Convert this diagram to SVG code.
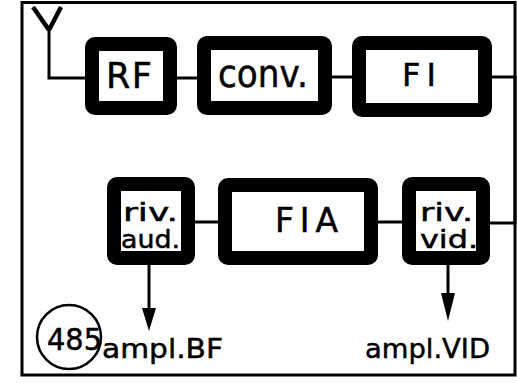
<svg xmlns="http://www.w3.org/2000/svg" width="517" height="390" viewBox="0 0 517 390">
<style>
.box{fill:#fff;stroke:#000;stroke-width:14;stroke-linejoin:round}
.ln{fill:none;stroke:#000;stroke-width:3;stroke-linecap:square}
.t{font-family:"DejaVu Sans","Liberation Sans",sans-serif;fill:#000;stroke:#000;stroke-width:0.5}
</style>
<rect width="517" height="390" fill="#fff"/>
<rect x="22" y="2.5" width="493" height="372.5" fill="none" stroke="#000" stroke-width="3"/>
<g id="connectors">
<polyline class="ln" points="49,28 49,78 85,78"/>
<line class="ln" x1="177" y1="78" x2="197" y2="78"/>
<line class="ln" x1="332" y1="77" x2="352" y2="77"/>
<polyline class="ln" points="492,77 515,77 515,223 490,223"/>
<line class="ln" x1="378" y1="222" x2="402" y2="222"/>
<line class="ln" x1="195" y1="222" x2="218" y2="222"/>
<line class="ln" x1="149" y1="265" x2="149" y2="310"/>
<polygon points="142,308 156,308 149,331" fill="#000"/>
<line class="ln" x1="448" y1="265" x2="448" y2="295"/>
<polygon points="441,293 455,293 448,321" fill="#000"/>
</g>
<g id="antenna">
<line x1="33" y1="7" x2="49" y2="30" stroke="#000" stroke-width="4.5"/>
<line x1="61" y1="7" x2="49" y2="30" stroke="#000" stroke-width="4.5"/>
</g>
<g id="rf">
<rect class="box" x="92" y="44" width="78" height="64" rx="3"/>
<text class="t" x="106" y="88" font-size="35" textLength="46">RF</text>
</g>
<g id="conv">
<rect class="box" x="204" y="43" width="121" height="65" rx="3"/>
<text class="t" x="218" y="87" font-size="38" textLength="90" lengthAdjust="spacingAndGlyphs">conv.</text>
</g>
<g id="fi">
<rect class="box" x="359" y="43" width="126" height="67" rx="3"/>
<text class="t" x="402" y="86" font-size="32" textLength="34">FI</text>
</g>
<g id="riv-aud">
<rect class="box" x="114" y="184" width="74" height="74" rx="3"/>
<text class="t" x="123" y="221" font-size="24" textLength="55" lengthAdjust="spacingAndGlyphs">riv.</text>
<text class="t" x="121" y="248" font-size="24" textLength="59" lengthAdjust="spacingAndGlyphs">aud.</text>
</g>
<g id="fia">
<rect class="box" x="225" y="185" width="146" height="73" rx="3"/>
<text class="t" x="275" y="232" font-size="33" textLength="63">FIA</text>
</g>
<g id="riv-vid">
<rect class="box" x="409" y="184" width="74" height="74" rx="3"/>
<text class="t" x="420" y="221" font-size="24" textLength="53" lengthAdjust="spacingAndGlyphs">riv.</text>
<text class="t" x="420" y="248" font-size="24" textLength="58" lengthAdjust="spacingAndGlyphs">vid.</text>
</g>
<g id="label-485">
<circle cx="69" cy="337" r="32" fill="none" stroke="#000" stroke-width="2.5"/>
<text class="t" x="47" y="350" font-size="30" textLength="55" lengthAdjust="spacingAndGlyphs">485</text>
</g>
<g id="ampl-bf">
<text class="t" x="102" y="358" font-size="27" textLength="121" lengthAdjust="spacingAndGlyphs">ampl.BF</text>
</g>
<g id="ampl-vid">
<text class="t" x="365" y="358" font-size="27" textLength="125" lengthAdjust="spacingAndGlyphs">ampl.VID</text>
</g>
</svg>
